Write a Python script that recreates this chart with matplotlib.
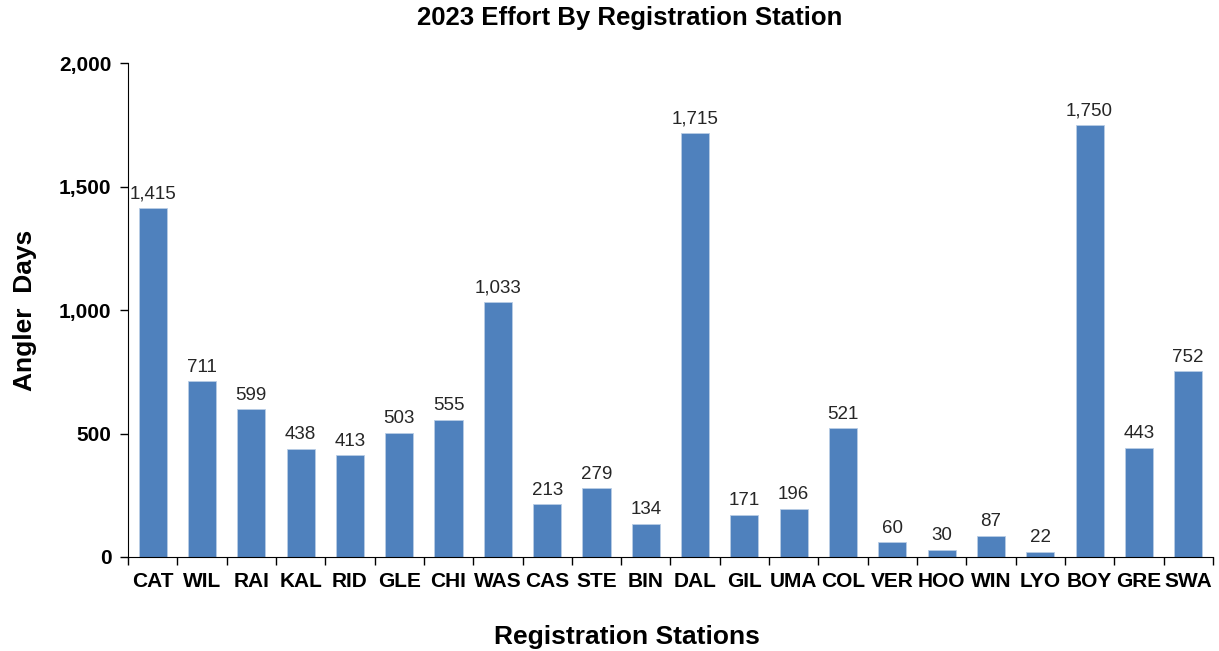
import matplotlib.pyplot as plt
import numpy as np

plt.rcParams['font.family'] = ['Liberation Sans', 'DejaVu Sans']

# Data
stations = ['CAT', 'WIL', 'RAI', 'KAL', 'RID', 'GLE', 'CHI', 'WAS', 'CAS', 'STE', 'BIN',
            'DAL', 'GIL', 'UMA', 'COL', 'VER', 'HOO', 'WIN', 'LYO', 'BOY', 'GRE', 'SWA']
angler_days = [1415, 711, 599, 438, 413, 503, 555, 1033, 213, 279, 134,
               1715, 171, 196, 521, 60, 30, 87, 22, 1750, 443, 752]

BARCOLOR = '#4F81BD'

fig = plt.figure(figsize=(12.19, 6.51), dpi=100)
ax = fig.add_axes([0.105, 0.1444, 0.890, 0.7588])

x = np.arange(len(stations))
bars = ax.bar(x, angler_days, width=0.57, color=BARCOLOR, edgecolor='#B9CDE5', linewidth=0.6)

for xi, v in zip(x, angler_days):
    ax.text(xi, v + 22, f'{v:,}', ha='center', va='bottom', fontsize=13.5, color='#262626')

ax.set_xlim(-0.5, len(stations) - 0.5)
ax.set_ylim(0, 2000)
ax.set_yticks([0, 500, 1000, 1500, 2000])
ax.set_yticklabels([f'{t:,}' for t in [0, 500, 1000, 1500, 2000]], fontsize=15, fontweight='bold')

ax.set_xticks(x)
ax.set_xticklabels(stations, fontsize=15, fontweight='bold')
ax.set_xticks(np.arange(-0.5, len(stations), 1.0), minor=True)
ax.tick_params(axis='x', which='major', length=0, pad=11)
ax.tick_params(axis='x', which='minor', length=6, width=1, direction='out')
ax.tick_params(axis='y', length=6, width=1, direction='out', pad=6)

ax.spines['top'].set_visible(False)
ax.spines['right'].set_visible(False)

# title and x label sit a bit left of the plot centre in the original
fig.text(630 / 1219, 1 - 18 / 651, '2023 Effort By Registration Station',
         ha='center', va='center', fontsize=18.5, fontweight='bold')
ax.set_xlabel('Registration Stations', fontsize=19, fontweight='bold', labelpad=24)
ax.xaxis.label.set_x((627 - 128) / 1085)
ax.set_ylabel('Angler  Days', fontsize=19, fontweight='bold', labelpad=16)

fig.savefig('out.png', dpi=100)
